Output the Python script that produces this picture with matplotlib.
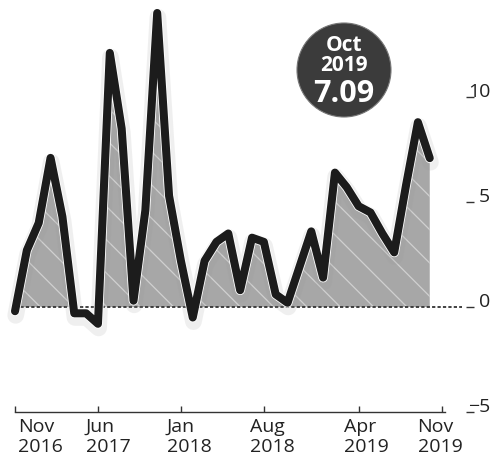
import numpy as np
import matplotlib.pyplot as plt
import matplotlib.patheffects as pe
from matplotlib.patches import Circle
from matplotlib.transforms import ScaledTranslation

plt.rcParams["font.family"] = ["Open Sans", "DejaVu Sans"]
plt.rcParams["hatch.linewidth"] = 0.9

# monthly values, Nov 2016 .. Oct 2019
months = np.arange(36)
values = np.array([-0.2, 2.7, 4.0, 7.1, 4.3, -0.3, -0.3, -0.8, 12.1, 8.5,
                   0.3, 4.6, 14.0, 5.3, 2.2, -0.5, 2.2, 3.1, 3.5, 0.8,
                   3.3, 3.1, 0.6, 0.2, 1.9, 3.6, 1.4, 6.4, 5.7, 4.8,
                   4.5, 3.5, 2.6, 5.8, 8.8, 7.09])

tick_pos = [0, 7, 14, 21, 29, 36]
tick_labels = ["Nov\n2016", "Jun\n2017", "Jan\n2018", "Aug\n2018", "Apr\n2019", "Nov\n2019"]
y_ticks = [-5, 0, 5, 10]
callout = ["Oct", "2019", "7.09"]

W, H = 492, 455
fig = plt.figure(figsize=(W / 100, H / 100), dpi=100)

# 1. axes laid out in pixels
px_month = 11.85
ax = fig.add_axes([15 / W, 43 / H, 36.3 * px_month / W, 412 / H])
ax.set_xlim(0, 36.3)
ax.set_ylim(-5, 307 / 21)

# 2. hatched area above zero
ax.fill_between(months, values, 0, where=values >= 0, interpolate=True,
                facecolor="#a7a7a7", edgecolor="#d0d0d0", linewidth=0,
                hatch="\\", zorder=1)

ax.axhline(0, xmin=0, xmax=(462 - 15) / (36.3 * px_month), color="#333333",
           lw=1.3, ls=(0, (1.8, 1.2)), clip_on=False, zorder=2)

# 3. thick line
ax.plot(months, values, color="#1c1c1c", lw=5.8, solid_joinstyle="round",
        solid_capstyle="round", zorder=3, clip_on=False,
        path_effects=[pe.SimpleLineShadow(offset=(0.5, -3), shadow_color="#999999",
                                          alpha=0.15, linewidth=12),
                      pe.Stroke(linewidth=7.0, foreground="white"),
                      pe.Normal()])

# 4. axes styling
for side in ["top", "left", "right"]:
    ax.spines[side].set_visible(False)
ax.spines["bottom"].set_color("#333333")
ax.spines["bottom"].set_linewidth(1)

ax.set_xticks(tick_pos, tick_labels)
ax.tick_params(axis="x", direction="in", length=4.5, width=1, color="#333333",
               labelsize=14, pad=4, labelcolor="#222222")
x_offsets = [3, -12, -14, -14, -15, -24]
for lab, dx in zip(ax.get_xticklabels(), x_offsets):
    lab.set_horizontalalignment("left")
    lab.set_multialignment("left")
    lab.set_linespacing(1.15)
    lab.set_transform(lab.get_transform() + ScaledTranslation(dx / 100, 0, fig.dpi_scale_trans))

ax.yaxis.tick_right()
ax.spines["right"].set_position(("outward", 21 * 0.72))
ax.set_yticks(y_ticks)
ax.tick_params(axis="y", direction="out", length=5.8, width=1, color="#333333",
               labelsize=14, pad=11.5, labelcolor="#222222")
for lab in ax.get_yticklabels():
    lab.set_horizontalalignment("right")
    lab.set_verticalalignment("baseline")

# 5. callout circle
cx, cy = 344, 70
fig.add_artist(Circle((cx / 100, (H - cy) / 100), 0.47, transform=fig.dpi_scale_trans,
                      facecolor="#3b3b3b", edgecolor="#777777", lw=0.8))
fig.text(cx / W, 1 - 43 / H, callout[0], ha="center", va="center_baseline",
         color="white", fontsize=15, fontweight="bold")
fig.text(cx / W, 1 - 63 / H, callout[1], ha="center", va="center_baseline",
         color="white", fontsize=15, fontweight="bold")
fig.text(cx / W, 1 - 90 / H, callout[2], ha="center", va="center_baseline",
         color="white", fontsize=22, fontweight="bold")

plt.savefig("out.png", dpi=100)
